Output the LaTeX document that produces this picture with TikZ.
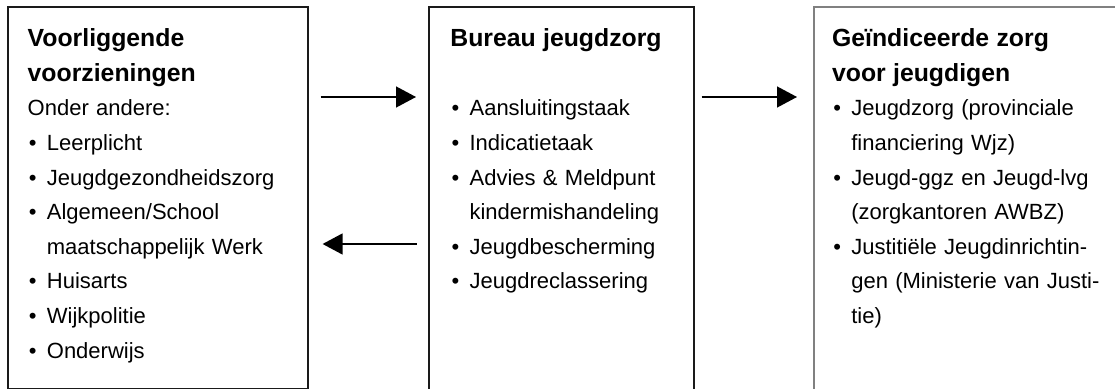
\documentclass[tikz,border=0pt]{standalone}
\usepackage{fontspec}
\setmainfont{Liberation Sans}
\usetikzlibrary{arrows.meta}

\definecolor{donker}{HTML}{1A1A1A}
\definecolor{grijs}{HTML}{808080}

\newcommand{\kop}[1]{{\fontsize{12.4}{17.3}\selectfont\bfseries #1\par}}
\newcommand{\punt}[1]{\hangindent=9.6pt\hangafter=1\noindent\makebox[9.6pt][l]{\hspace{0.6pt}•}#1\par}

\tikzset{
  kader/.style={draw=donker, line width=0.8pt, anchor=north west, inner sep=0pt},
  lijst/.style={anchor=base west, inner sep=0pt, text width=#1,
    font=\fontsize{11}{17.3}\selectfont, execute at begin node=\raggedright},
  pijl/.style={line width=0.7pt, -{Triangle[length=10pt,width=10.5pt]}}
}

\begin{document}
\begin{tikzpicture}[x=0.5pt,y=-0.5pt]
  \useasboundingbox (0,0) rectangle (1115,389);
  \clip (0,0) rectangle (1115,389);

  % de drie kaders
  \node[kader, minimum width=150pt, minimum height=191pt] (voor) at (7,6) {};
  \node[kader, minimum width=132.5pt, minimum height=197pt] (bureau) at (428,6) {};
  \node[kader, draw=grijs, minimum width=160pt, minimum height=197pt] (zorg) at (813,6) {};

  % teksten
  \node[lijst=140pt] (voortekst) at (27.3,46.7) {%
    \kop{Voorliggende\newline voorzieningen}
    Onder andere:\par
    \punt{Leerplicht}
    \punt{Jeugdgezondheidszorg}
    \punt{Algemeen/School\newline maatschappelijk Werk}
    \punt{Huisarts}
    \punt{Wijkpolitie}
    \punt{Onderwijs}};
  \node[lijst=120pt] (bureautekst) at (450,46.7) {%
    \kop{Bureau jeugdzorg}
    \mbox{}\par
    \punt{Aansluitingstaak}
    \punt{Indicatietaak}
    \punt{Advies \& Meldpunt\newline kindermishandeling}
    \punt{Jeugdbescherming}
    \punt{Jeugdreclassering}};
  \node[lijst=140pt] (zorgtekst) at (831.7,46.7) {%
    \kop{Geïndiceerde zorg\newline voor jeugdigen}
    \punt{Jeugdzorg (provinciale\newline financiering Wjz)}
    \punt{Jeugd-ggz en Jeugd-lvg\newline (zorgkantoren AWBZ)}
    \punt{Justitiële Jeugdinrichtin-\newline gen (Ministerie van Justi-\newline tie)}};

  % pijlen
  \coordinate (hoog) at (0,97);
  \coordinate (laag) at (0,244);
  \draw[pijl, shorten <=6pt, shorten >=6pt] (voor.east |- hoog) -- (bureau.west |- hoog);
  \draw[pijl, shorten <=5.6pt, shorten >=7pt] (bureau.west |- laag) -- (voor.east |- laag);
  \draw[pijl, shorten <=3.5pt, shorten >=8pt] (bureau.east |- hoog) -- (zorg.west |- hoog);
\end{tikzpicture}
\end{document}
